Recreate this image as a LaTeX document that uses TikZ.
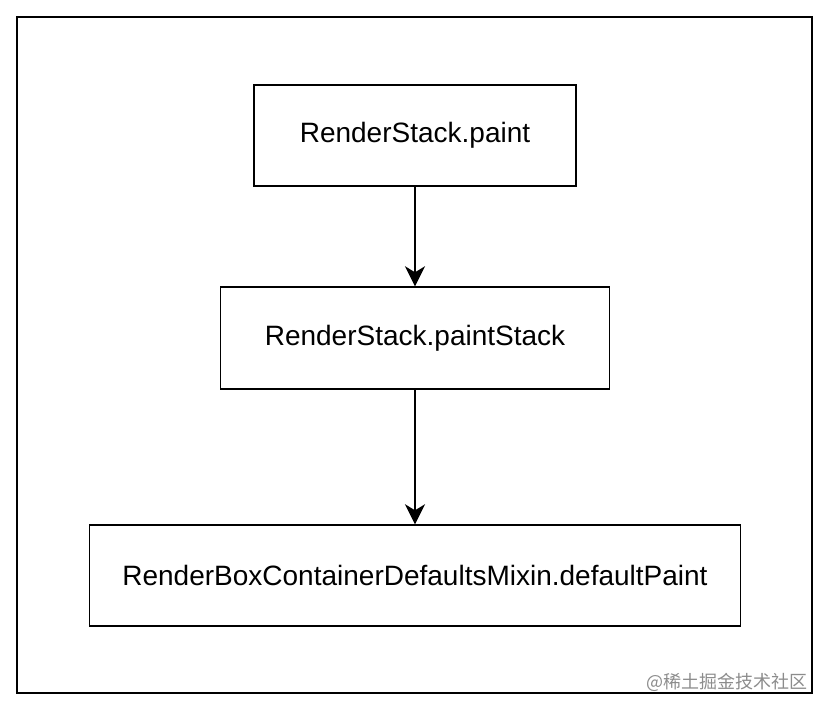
\documentclass[tikz,border=0pt]{standalone}
\usepackage{fontspec}
\setmainfont{Liberation Sans}
\newfontfamily\cjkfont{Noto Sans CJK SC}
\usepackage{tikz}
\usetikzlibrary{arrows.meta}

\begin{document}
\begin{tikzpicture}[x = 0.5pt, y = -0.5pt,
                    callbox/.style = {draw, line width = 0.7pt, inner sep = 0pt, font = \fontsize{14}{16}\selectfont},
                    callarrow/.style = {-{Stealth[length = 10pt, width = 10pt, inset = 3pt]}, line width = 1.2pt}]
                \useasboundingbox (0,0) rectangle (830,712);
                \draw [line width = 0.7pt] (17,17) rectangle (812,693);
                \node [callbox, minimum width = 161pt, minimum height = 50.5pt] (paint) at (415,135.5) {RenderStack.paint};
                \node [callbox, minimum width = 194.5pt, minimum height = 51pt] (paintstack) at (415,338) {RenderStack.paintStack};
                \node [callbox, minimum width = 325.5pt, minimum height = 50.5pt] (defaultpaint) at (415,575.5) {RenderBoxContainerDefaultsMixin.defaultPaint};
                \draw [callarrow] (paint.south) -- (paintstack.north);
                \draw [callarrow] (paintstack.south) -- (defaultpaint.north);
                % watermark
                \node [anchor = base east, inner sep = 0pt, text = black!45, font = \cjkfont\fontsize{9}{10}\selectfont] (mark) at (808,688) {@稀土掘金技术社区};
            \end{tikzpicture}
\end{document}
